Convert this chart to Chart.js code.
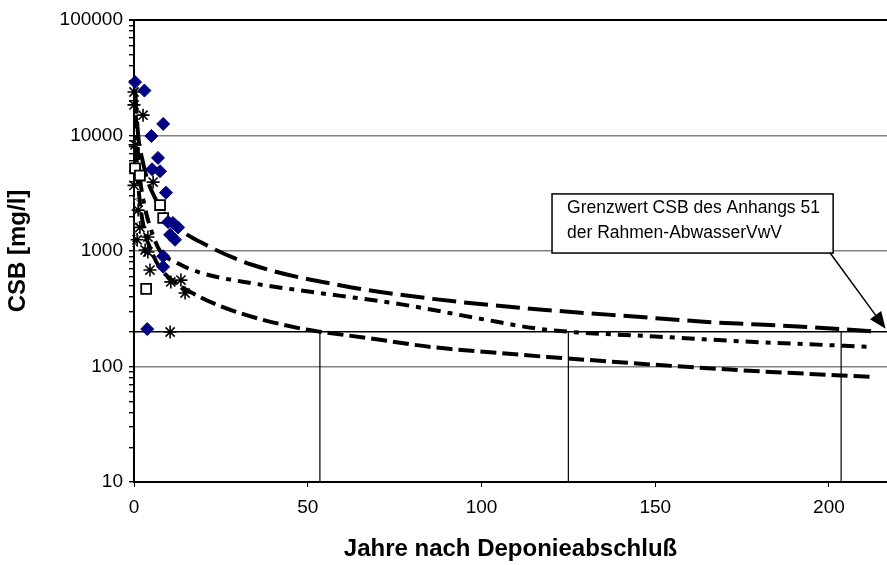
<!DOCTYPE html>
<html>
<head>
<meta charset="utf-8">
<script src="https://cdn.jsdelivr.net/npm/chart.js@4/dist/chart.umd.min.js"></script>
<style>
  html, body { margin: 0; padding: 0; background: #fff; overflow: hidden; }
  #wrap { width: 887px; height: 565px; position: relative; }
</style>
</head>
<body>
<div id="wrap"><canvas id="chartCsb"></canvas></div>
<script>
// Achsen
const xMin = 0, xMax = 216.7;
const xTicks = [0, 50, 100, 150, 200];
const yTicks = [10, 100, 1000, 10000, 100000];

// Grenzwert CSB und Schnittpunkte der Prognosekurven
const limitValue = 200;
const crossingYears = [53.5, 125, 203.5];

// Prognosekurven
const upperYears = [0.3, 1.2, 2.5, 4, 6, 8.4, 12.4, 19, 34, 60, 86, 115, 146, 165, 194, 214];
const upperValues = [25000, 10000, 6000, 4000, 2900, 2150, 1600, 1200, 760, 500, 385, 315, 268, 243, 220, 200];

const middleYears = [0.5, 1.5, 3, 5, 7.5, 12, 19, 35, 48, 77, 100, 115, 125, 150, 175, 212];
const middleValues = [15000, 5000, 2500, 1500, 1000, 800, 650, 520, 455, 345, 258, 215, 200, 182, 165, 148];

const lowerYears = [0.5, 1.5, 3, 5, 7, 10, 19, 30.5, 48, 53.5, 67, 86, 105, 119, 174, 213];
const lowerValues = [8000, 3000, 1500, 1000, 750, 590, 400, 290, 213, 200, 177, 147, 131, 121, 93, 81];

// Messwerte
const diamondYears = [0.3, 3, 8.4, 5, 6.9, 5.2, 7.5, 9.2, 9.8, 11.2, 12.7, 10.4, 11.8, 8.4, 8.4, 3.8];
const diamondValues = [29000, 24500, 12600, 9900, 6400, 5100, 4900, 3200, 1780, 1750, 1600, 1380, 1250, 900, 730, 211];

const starYears = [0, 0, 2.6, 0.3, 0, 5.5, 1.2, 1.7, 4, 0.9, 3.2, 4.6, 4, 10.6, 13.5, 14.7, 10.4];
const starValues = [23800, 18400, 15000, 8300, 3700, 3950, 2260, 1600, 1320, 1250, 1020, 684, 980, 540, 560, 433, 199];

const squareYears = [0.3, 1.7, 7.5, 8.4, 3.5];
const squareValues = [5200, 4500, 2500, 1930, 470];

const crossYears = [0.5, 0.5, 0.5, 0.8, 0.3];
const crossValues = [2800, 2200, 1700, 1400, 1150];

const calloutLines = ["Grenzwert CSB des Anhangs 51", "der Rahmen-AbwasserVwV"];

const toPoints = (xs, ys) => xs.map((x, i) => ({ x: x, y: ys[i] }));

// Log-Achse: Hauptstriche an den Dekaden, Zwischenstriche 2..9
const yAllTicks = [];
yTicks.forEach((v, i) => {
  yAllTicks.push(v);
  if (i < yTicks.length - 1) {
    for (let m = 2; m <= 9; m++) yAllTicks.push(v * m);
  }
});

const fontFamily = "'Liberation Sans', Arial, sans-serif";

const curve = (points, dash) => ({
  data: points,
  showLine: true,
  borderColor: "#000",
  borderWidth: 4,
  borderDash: dash,
  pointRadius: 0,
  cubicInterpolationMode: "monotone",
  order: 2,
});

const thinLine = (points, width) => ({
  data: points,
  showLine: true,
  borderColor: "#000",
  borderWidth: width,
  pointRadius: 0,
  order: 3,
});

const calloutPlugin = {
  id: "callout",
  afterDatasetsDraw(chart) {
    const { ctx, scales: { x, y } } = chart;
    const left = x.getPixelForValue(120.3);
    const right = x.getPixelForValue(201.2);
    const top = y.getPixelForValue(3120);
    const bottom = y.getPixelForValue(960);
    ctx.save();
    ctx.fillStyle = "#fff";
    ctx.fillRect(left, top, right - left, bottom - top);
    ctx.strokeStyle = "#000";
    ctx.lineWidth = 1.5;
    ctx.strokeRect(left, top, right - left, bottom - top);
    ctx.fillStyle = "#000";
    ctx.font = "17.5px " + fontFamily;
    ctx.textBaseline = "middle";
    ctx.textAlign = "left";
    ctx.fillText(calloutLines[0], left + 15, top + 14);
    ctx.fillText(calloutLines[1], left + 15, top + 39);

    // Pfeil auf die Grenzwertlinie
    const sx = right - 3, sy = bottom;
    const tx = x.getPixelForValue(216.3), ty = y.getPixelForValue(212);
    const ang = Math.atan2(ty - sy, tx - sx);
    const head = 17, half = 7;
    const bx = tx - head * Math.cos(ang), by = ty - head * Math.sin(ang);
    ctx.lineWidth = 1.5;
    ctx.beginPath();
    ctx.moveTo(sx, sy);
    ctx.lineTo(bx, by);
    ctx.stroke();
    ctx.beginPath();
    ctx.moveTo(tx, ty);
    ctx.lineTo(bx + half * Math.sin(ang), by - half * Math.cos(ang));
    ctx.lineTo(bx - half * Math.sin(ang), by + half * Math.cos(ang));
    ctx.closePath();
    ctx.fill();
    ctx.restore();
  },
};

const datasets = [
  {
    data: toPoints(diamondYears, diamondValues),
    pointStyle: "rectRot",
    pointRadius: 6.5,
    backgroundColor: "#000080",
    borderColor: "#000080",
    borderWidth: 1,
    clip: false,
    order: 1,
  },
  {
    data: toPoints(starYears, starValues),
    pointStyle: "star",
    pointRadius: 6.5,
    borderColor: "#000",
    borderWidth: 1.6,
    clip: false,
    order: 1,
  },
  {
    data: toPoints(squareYears, squareValues),
    pointStyle: "rect",
    pointRadius: 7,
    backgroundColor: "#fff",
    borderColor: "#000",
    borderWidth: 1.8,
    clip: false,
    order: 1,
  },
  {
    data: toPoints(crossYears, crossValues),
    pointStyle: "crossRot",
    pointRadius: 4,
    borderColor: "#555",
    borderWidth: 1,
    clip: false,
    order: 1,
  },
  curve(toPoints(upperYears, upperValues), [24, 8]),
  curve(toPoints(middleYears, middleValues), [13, 7, 5, 7]),
  curve(toPoints(lowerYears, lowerValues), [16, 6]),
  thinLine([{ x: xMin, y: limitValue }, { x: xMax, y: limitValue }], 1.5),
];
crossingYears.forEach((c) => {
  datasets.push(thinLine([{ x: c, y: limitValue }, { x: c, y: yTicks[0] }], 1.2));
});

new Chart(document.getElementById("chartCsb"), {
  type: "scatter",
  data: { datasets: datasets },
  plugins: [calloutPlugin],
  options: {
    responsive: true,
    maintainAspectRatio: false,
    animation: false,
    layout: { autoPadding: false, padding: { top: 20, right: 0, left: 0, bottom: 0 } },
    plugins: {
      legend: { display: false },
      tooltip: { enabled: false },
    },
    scales: {
      x: {
        type: "linear",
        min: xMin,
        max: xMax,
        afterBuildTicks: (scale) => {
          scale.ticks = xTicks.map((v) => ({ value: v }));
        },
        afterFit: (scale) => {
          scale.height = 83;
        },
        ticks: {
          color: "#000",
          font: { family: fontFamily, size: 19 },
          padding: 9,
          maxRotation: 0,
        },
        grid: {
          drawOnChartArea: false,
          tickColor: "#000",
          tickLength: 5,
        },
        border: { color: "#000", width: 2 },
        title: {
          display: true,
          text: "Jahre nach Deponieabschluß",
          color: "#000",
          font: { family: fontFamily, size: 24, weight: "bold" },
          padding: { top: 0, bottom: 1 },
        },
      },
      y: {
        type: "logarithmic",
        min: yTicks[0],
        max: yTicks[yTicks.length - 1],
        afterBuildTicks: (scale) => {
          scale.ticks = yAllTicks.map((v) => ({ value: v, major: yTicks.includes(v) }));
        },
        afterFit: (scale) => {
          scale.width = 134;
        },
        ticks: {
          color: "#000",
          font: { family: fontFamily, size: 19 },
          padding: 6,
          autoSkip: false,
          callback: (value) => (yTicks.includes(value) ? String(value) : ""),
        },
        grid: {
          color: (ctx) => {
            const v = ctx.tick ? ctx.tick.value : null;
            if (v === yTicks[yTicks.length - 1]) return "#000";
            if (yTicks.includes(v) && v !== yTicks[0]) return "#808080";
            return "rgba(0,0,0,0)";
          },
          lineWidth: (ctx) => (ctx.tick && ctx.tick.value === yTicks[yTicks.length - 1] ? 2 : 1.4),
          tickColor: "#000",
          tickLength: 5,
        },
        border: { color: "#000", width: 2 },
        title: {
          display: true,
          text: "CSB [mg/l]",
          color: "#000",
          font: { family: fontFamily, size: 24, weight: "bold" },
          padding: { top: 4, bottom: 0 },
        },
      },
    },
  },
});
</script>
</body>
</html>
